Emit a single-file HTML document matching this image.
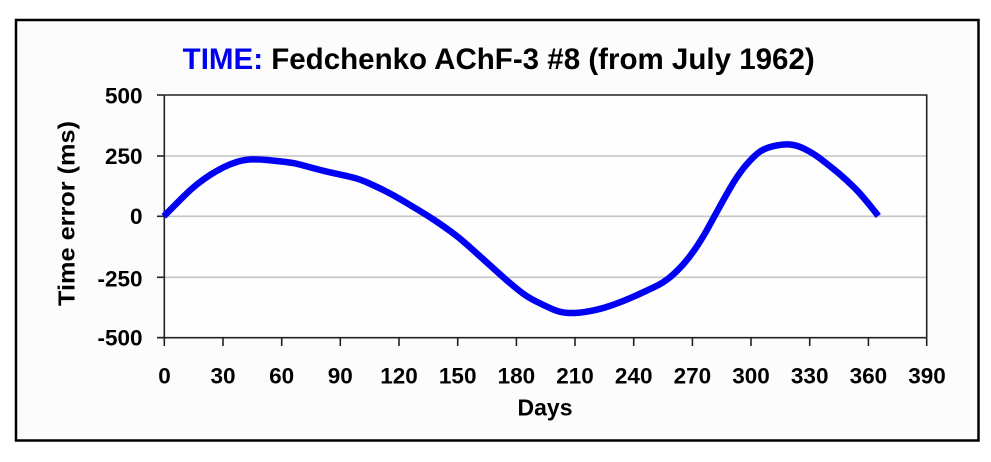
<!DOCTYPE html>
<html><head><meta charset="utf-8"><style>
html,body{margin:0;padding:0;background:#fff;}
svg{display:block;}
text{font-family:"Liberation Sans",Arial,sans-serif;font-weight:bold;fill:#000;}
</style></head><body>
<svg width="991" height="462" viewBox="0 0 991 462" xmlns="http://www.w3.org/2000/svg">
<rect x="0" y="0" width="991" height="462" fill="#fff"/>
<rect x="16" y="20" width="962.5" height="420.5" fill="#fbfcfb" stroke="#000" stroke-width="2.5"/>
<!-- title -->
<text x="182.7" y="69" font-size="29.5" textLength="632" lengthAdjust="spacingAndGlyphs"><tspan fill="#0000f0">TIME:</tspan> Fedchenko AChF-3 #8 (from July 1962)</text>
<!-- plot area -->
<rect x="164.3" y="95" width="762.4" height="242.7" fill="#fdfefd"/>
<g stroke="#c4c4c4" stroke-width="1.6">
<line x1="164.3" y1="156" x2="926.7" y2="156"/>
<line x1="164.3" y1="216.3" x2="926.7" y2="216.3"/>
<line x1="164.3" y1="277.3" x2="926.7" y2="277.3"/>
</g>
<g stroke="#222" stroke-width="1.6" fill="none">
<polyline points="164.3,95 926.7,95 926.7,337.7"/>
<line x1="164.3" y1="95" x2="164.3" y2="337.7"/>
<line x1="157" y1="337.7" x2="926.7" y2="337.7"/>
<line x1="157" y1="95" x2="164.3" y2="95"/>
<line x1="157" y1="156" x2="164.3" y2="156"/>
<line x1="157" y1="216.3" x2="164.3" y2="216.3"/>
<line x1="157" y1="277.3" x2="164.3" y2="277.3"/>
<line x1="157" y1="337.7" x2="164.3" y2="337.7"/>
<line x1="164.3" y1="337.7" x2="164.3" y2="346"/>
<line x1="223" y1="337.7" x2="223" y2="346"/>
<line x1="281.7" y1="337.7" x2="281.7" y2="346"/>
<line x1="340.3" y1="337.7" x2="340.3" y2="346"/>
<line x1="399" y1="337.7" x2="399" y2="346"/>
<line x1="457.7" y1="337.7" x2="457.7" y2="346"/>
<line x1="516.4" y1="337.7" x2="516.4" y2="346"/>
<line x1="575" y1="337.7" x2="575" y2="346"/>
<line x1="633.7" y1="337.7" x2="633.7" y2="346"/>
<line x1="692.4" y1="337.7" x2="692.4" y2="346"/>
<line x1="751" y1="337.7" x2="751" y2="346"/>
<line x1="809.7" y1="337.7" x2="809.7" y2="346"/>
<line x1="868.4" y1="337.7" x2="868.4" y2="346"/>
<line x1="926.7" y1="337.7" x2="926.7" y2="346"/>
</g>
<!-- y tick labels -->
<g font-size="22.5" text-anchor="end">
<text x="142.5" y="103.3">500</text>
<text x="142.5" y="163.8">250</text>
<text x="142.5" y="224.2">0</text>
<text x="142.5" y="286.7">-250</text>
<text x="142.5" y="345.5">-500</text>
</g>
<!-- x tick labels -->
<g font-size="22.5" text-anchor="middle">
<text x="164.5" y="383.3">0</text>
<text x="223" y="383.3">30</text>
<text x="281.7" y="383.3">60</text>
<text x="340.3" y="383.3">90</text>
<text x="399" y="383.3">120</text>
<text x="457.7" y="383.3">150</text>
<text x="516.4" y="383.3">180</text>
<text x="575" y="383.3">210</text>
<text x="633.7" y="383.3">240</text>
<text x="692.4" y="383.3">270</text>
<text x="751" y="383.3">300</text>
<text x="809.7" y="383.3">330</text>
<text x="868.4" y="383.3">360</text>
<text x="927" y="383.3">390</text>
</g>
<text x="545" y="415.7" font-size="23" text-anchor="middle">Days</text>
<text transform="translate(74.3,213.5) rotate(-90)" x="0" y="0" font-size="23" text-anchor="middle" textLength="185" lengthAdjust="spacingAndGlyphs">Time error (ms)</text>
<!-- curve -->
<path fill="none" stroke="#0000f5" stroke-width="6.5" stroke-linejoin="round" stroke-linecap="butt"
d="M163.8,216.3 L170.25,209.8
Q176.7,203.3 183.35,196.65
Q190,190 196.65,184.65
Q203.3,179.3 210,175
Q216.7,170.7 223.35,167.35
Q230,164 237.5,161.75
Q245,159.5 252.5,159.4
Q260,159.3 268.35,160.15
Q276.7,161 285,161.85
Q293.3,162.7 301.65,165
Q310,167.3 318.35,169.5
Q326.7,171.7 336.7,173.85
Q346.7,176 353.35,177.65
Q360,179.3 368.35,183
Q376.7,186.7 385,190.85
Q393.3,195 401.65,200
Q410,205 418.35,210
Q426.7,215 435,220.5
Q443.3,226 451.65,232.15
Q460,238.3 468.35,245.8
Q476.7,253.3 485,260.8
Q493.3,268.3 501.65,275.8
Q510,283.3 518.35,290
Q526.7,296.7 535,300.85
Q543.3,305 551.65,308.85
Q560,312.7 568.35,313
Q576.7,313.3 586.7,311.65
Q596.7,310 605,307.5
Q613.3,305 621.65,301.65
Q630,298.3 638.35,294.5
Q646.7,290.7 655,286.7
Q663.3,282.7 670,277.2
Q676.7,271.7 683.35,264.2
Q690,256.7 696.65,246.7
Q703.3,236.7 708.3,227.5
Q713.3,218.3 718.3,209.15
Q723.3,200 730,188.35
Q736.7,176.7 743.35,168.35
Q750,160 756.65,154.15
Q763.3,148.3 773.3,146.15
Q783.3,144 790,144.5
Q796.7,145 805,149.15
Q813.3,153.3 821.65,159.65
Q830,166 838.35,173
Q846.7,180 855,188.35
Q863.3,196.7 878.3,216"/>
</svg>
</body></html>
